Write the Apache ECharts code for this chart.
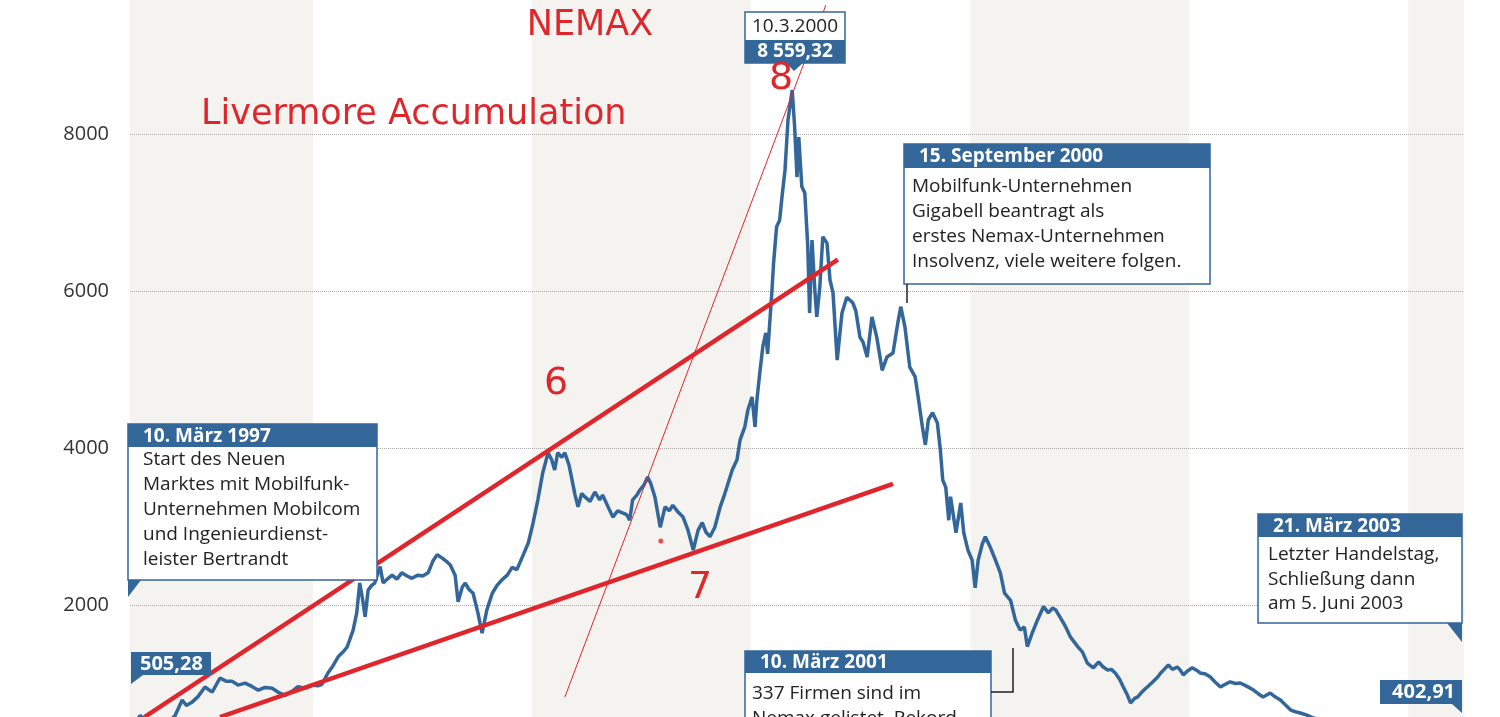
<!DOCTYPE html>
<html>
<head>
<meta charset="utf-8">
<title>NEMAX</title>
<script src="https://cdn.jsdelivr.net/npm/echarts@6/dist/echarts.min.js"></script>
<style>
  html, body { margin: 0; padding: 0; background: #fff; }
  #chart { width: 1500px; height: 717px; }
</style>
</head>
<body>
<div id="chart"></div>
<script>
// NEMAX Verlauf 1997-2003
const dates = [
  '1997-03-10','1997-03-19','1997-03-27','1997-04-04','1997-04-21','1997-05-08','1997-05-16','1997-05-28','1997-06-04','1997-06-13',
  '1997-06-23','1997-07-05','1997-07-17','1997-07-30','1997-08-09','1997-08-19','1997-08-29','1997-09-10','1997-09-22','1997-10-02',
  '1997-10-13','1997-10-25','1997-11-06','1997-11-16','1997-11-27','1997-12-07','1997-12-19','1997-12-31',
  '1998-01-09','1998-01-16','1998-01-26','1998-02-03','1998-02-12','1998-02-20','1998-02-27','1998-03-09','1998-03-15','1998-03-20',
  '1998-03-25','1998-03-29','1998-04-03','1998-04-09','1998-04-14','1998-04-23','1998-04-28','1998-05-05','1998-05-13','1998-05-21',
  '1998-05-29','1998-06-07','1998-06-15','1998-06-25','1998-07-03','1998-07-12','1998-07-20','1998-07-27','1998-08-04','1998-08-11',
  '1998-08-18','1998-08-26','1998-08-31','1998-09-07','1998-09-12','1998-09-18','1998-09-25','1998-10-03','1998-10-10','1998-10-18',
  '1998-10-27','1998-11-04','1998-11-12','1998-11-21','1998-11-29','1998-12-07','1998-12-16','1998-12-26',
  '1999-01-03','1999-01-11','1999-01-19','1999-01-28','1999-02-03','1999-02-08','1999-02-13','1999-02-20','1999-02-25','1999-03-04',
  '1999-03-09','1999-03-14','1999-03-19','1999-03-25','1999-03-30','1999-04-08','1999-04-16','1999-04-24','1999-04-29','1999-05-08',
  '1999-05-16','1999-05-24','1999-06-02','1999-06-08','1999-06-13','1999-06-18','1999-06-25','1999-06-30','1999-07-07','1999-07-13',
  '1999-07-18','1999-07-25','1999-08-03','1999-08-11','1999-08-18','1999-08-24','1999-09-02','1999-09-10','1999-09-18','1999-09-27',
  '1999-10-05','1999-10-12','1999-10-18','1999-10-25','1999-11-02','1999-11-11','1999-11-17','1999-11-22','1999-12-01','1999-12-09',
  '1999-12-14','1999-12-22','1999-12-27',
  '2000-01-03','2000-01-08','2000-01-11','2000-01-16','2000-01-21','2000-01-26','2000-01-29','2000-02-05','2000-02-08','2000-02-13',
  '2000-02-18','2000-02-22','2000-02-27','2000-03-03','2000-03-10','2000-03-14','2000-03-18','2000-03-21','2000-03-26','2000-03-31',
  '2000-04-05','2000-04-08','2000-04-12','2000-04-17','2000-04-20','2000-04-25','2000-04-30','2000-05-07','2000-05-12','2000-05-17',
  '2000-05-24','2000-06-01','2000-06-09','2000-06-19','2000-06-24','2000-07-01','2000-07-06','2000-07-13','2000-07-21','2000-07-29',
  '2000-08-07','2000-08-15','2000-08-25','2000-09-02','2000-09-07','2000-09-14','2000-09-22','2000-10-01','2000-10-06','2000-10-13',
  '2000-10-18','2000-10-23','2000-10-30','2000-11-07','2000-11-12','2000-11-16','2000-11-21','2000-11-26','2000-11-29','2000-12-08',
  '2000-12-16','2000-12-21','2000-12-28',
  '2001-01-04','2001-01-09','2001-01-14','2001-01-21','2001-01-26','2001-02-03','2001-02-12','2001-02-20','2001-02-27','2001-03-09',
  '2001-03-17','2001-03-25','2001-04-01','2001-04-06','2001-04-14','2001-04-23','2001-05-03','2001-05-11','2001-05-18','2001-05-23',
  '2001-05-31','2001-06-09','2001-06-17','2001-06-29','2001-07-07','2001-07-15','2001-07-25','2001-08-03','2001-08-09','2001-08-18',
  '2001-08-24','2001-08-31','2001-09-07','2001-09-13','2001-09-20','2001-09-25','2001-10-02','2001-10-07','2001-10-15','2001-10-23',
  '2001-11-01','2001-11-09','2001-11-14','2001-11-19','2001-11-27','2001-12-04','2001-12-12','2001-12-17','2001-12-22','2001-12-29',
  '2002-01-06','2002-01-13','2002-01-19','2002-01-28','2002-02-05','2002-02-13','2002-02-22','2002-03-02','2002-03-10','2002-03-19',
  '2002-03-27','2002-04-08','2002-04-18','2002-04-26','2002-05-04','2002-05-16','2002-05-24','2002-06-02','2002-06-10','2002-06-19',
  '2002-06-27','2002-07-05','2002-07-15','2002-07-27','2002-08-15','2002-09-05','2002-09-25','2002-10-08','2002-10-25','2002-11-15',
  '2002-12-05','2002-12-30','2003-01-15','2003-02-10','2003-03-10','2003-03-21'
];
const values = [
  505.28, 590, 540, 480, 470, 530, 590, 790, 720, 760,
  830, 955, 890, 1070, 1030, 1030, 980, 1005, 960, 915,
  950, 940, 880, 850, 900, 960, 940, 980,
  970, 990, 1134, 1220, 1340, 1400, 1465, 1680, 1900, 2280,
  2060, 1850, 2190, 2250, 2280, 2490, 2280, 2330, 2380, 2330,
  2410, 2370, 2340, 2380, 2370, 2410, 2560, 2640, 2600, 2560,
  2510, 2380, 2040, 2230, 2280, 2200, 2150, 1900, 1640, 1940,
  2150, 2250, 2320, 2380, 2480, 2450, 2610, 2790,
  3045, 3340, 3680, 3940, 3850, 3720, 3940, 3880, 3940, 3780,
  3590, 3400, 3250, 3420, 3380, 3320, 3440, 3340, 3400, 3250,
  3120, 3200, 3170, 3150, 3080, 3340, 3400, 3465, 3530, 3630,
  3550, 3380, 2990, 3250, 3200, 3270, 3180, 3120, 2960, 2700,
  2950, 3050, 2930, 2870, 2990, 3250, 3380, 3500, 3720, 3850,
  4100, 4270, 4480,
  4650, 4270, 4600, 4960, 5290, 5465, 5200, 5975, 6360, 6820,
  6900, 7200, 7540, 8180, 8559.32, 8100, 7450, 7960, 7330, 7250,
  6560, 5720, 6650, 5975, 5670, 6050, 6690, 6610, 6140, 5980,
  5120, 5720, 5920, 5850, 5750, 5410, 5350, 5160, 5670, 5410,
  4990, 5160, 5210, 5590, 5800, 5540, 5030, 4905, 4650, 4270,
  4040, 4360, 4450, 4320, 3975, 3590, 3500, 3080, 3380, 2920,
  3300, 2920, 2700,
  2570, 2220, 2570, 2780, 2870, 2740, 2570, 2410, 2150, 2060,
  1810, 1680, 1720, 1470, 1640, 1810, 1980, 1900, 1960, 1940,
  1840, 1720, 1590, 1470, 1400, 1260, 1200, 1275, 1220, 1170,
  1180, 1130, 1050, 955, 850, 752, 810, 830, 900, 955,
  1020, 1080, 1130, 1170, 1236, 1180, 1210, 1170, 1110, 1160,
  1200, 1170, 1134, 1120, 1083, 1020, 955, 990, 1020, 1000,
  1006, 960, 917, 870, 828, 879, 830, 790, 730, 662,
  640, 624, 600, 560, 520, 480, 390, 320, 390, 440,
  430, 400, 430, 370, 360, 402.91
];

// Jahresbänder (grau hinterlegt)
const greyYears = [['1997-03-02', '1998-01-01'], ['1999-01-01', '2000-01-01'], ['2001-01-01', '2002-01-01'], ['2003-01-01', '2003-04-04']];

// Trendlinien (rot)
const upperTrend = [['1997-03-26', 573], ['2000-05-25', 6400]];
const lowerTrend = [['1997-07-30', 573], ['2000-08-25', 3542]];
const thinTrend = [['1999-02-25', 828], ['2000-05-05', 9640]];
const redDot = [['1999-08-04', 2816]];

const yTicks = { min: 0, max: 10000, interval: 2000 };

const blue = '#336699';
const red = '#e0262d';
const textFont = '"Open Sans", "Noto Sans", sans-serif';

function fmtDe(v) {
  const parts = v.toFixed(2).split('.');
  return parts[0].replace(/\B(?=(\d{3})+(?!\d))/g, ' ') + ',' + parts[1];
}

const series = dates.map((d, i) => [d, values[i]]);
const startVal = values[0];
const peakVal = Math.max(...values);
const endVal = values[values.length - 1];

function txt(x, y, text, opts) {
  return {
    type: 'text',
    z: 100,
    style: Object.assign({
      x: x, y: y, text: text,
      fill: '#222',
      fontFamily: textFont,
      fontSize: 19,
      align: 'left', textAlign: 'left',
      verticalAlign: 'middle', textVerticalAlign: 'middle'
    }, opts || {})
  };
}
function box(x, y, w, h, headerH, title) {
  return [
    { type: 'rect', z: 90, shape: { x: x, y: y, width: w, height: h }, style: { fill: '#fff', stroke: blue, lineWidth: 1.5 } },
    { type: 'rect', z: 91, shape: { x: x, y: y, width: w, height: headerH }, style: { fill: blue } },
    txt(x + 15, y + headerH / 2 + 1, title, { fill: '#fff', fontWeight: 'bold' })
  ];
}
function body(x, y, lines, lh) {
  return txt(x, y, lines.join('\n'), { verticalAlign: 'top', textVerticalAlign: 'top', lineHeight: lh });
}
function tri(points) {
  return { type: 'polygon', z: 92, shape: { points: points }, style: { fill: blue } };
}

const graphics = [].concat(
  // 10. März 1997
  box(128, 424, 249, 156, 23, '10. März 1997'),
  [body(143, 447.5, ['Start des Neuen', 'Marktes mit Mobilfunk-', 'Unternehmen Mobilcom', 'und Ingenieurdienst-', 'leister Bertrandt'], 24.8),
   tri([[128, 580], [141, 580], [128, 597]])],
  // Startwert
  [{ type: 'rect', z: 90, shape: { x: 131, y: 652, width: 80, height: 23 }, style: { fill: blue } },
   txt(140, 664, fmtDe(startVal), { fill: '#fff', fontWeight: 'bold', fontSize: 20 }),
   tri([[131, 675], [143, 675], [131, 684]])],
  // Hoechststand
  [{ type: 'rect', z: 90, shape: { x: 745, y: 12, width: 100, height: 51 }, style: { fill: '#fff', stroke: blue, lineWidth: 1.5 } },
   { type: 'rect', z: 91, shape: { x: 745, y: 40, width: 100, height: 23 }, style: { fill: blue } },
   txt(795, 27, '10.3.2000', { align: 'center', textAlign: 'center' }),
   txt(795, 52, fmtDe(peakVal), { fill: '#fff', fontWeight: 'bold', align: 'center', textAlign: 'center' }),
   tri([[786, 63], [803, 63], [794, 71]])],
  // 15. September 2000
  box(904, 144, 306, 140, 24, '15. September 2000'),
  [body(912, 174.5, ['Mobilfunk-Unternehmen', 'Gigabell beantragt als', 'erstes Nemax-Unternehmen', 'Insolvenz, viele weitere folgen.'], 25),
   { type: 'line', z: 92, shape: { x1: 907, y1: 284, x2: 907, y2: 303 }, style: { stroke: '#222', lineWidth: 1.5 } }],
  // 10. März 2001
  box(745, 651, 246, 90, 22, '10. März 2001'),
  [body(752, 681.5, ['337 Firmen sind im', 'Nemax gelistet, Rekord'], 25),
   { type: 'polyline', z: 92, shape: { points: [[991, 692], [1013, 692], [1013, 648]] }, style: { stroke: '#222', lineWidth: 1.5, fill: null } }],
  // 21. März 2003
  box(1258, 514, 204, 109, 23, '21. März 2003'),
  [body(1268, 542.5, ['Letzter Handelstag,', 'Schließung dann', 'am 5. Juni 2003'], 24.5),
   tri([[1447, 623], [1462, 623], [1462, 642]])],
  // Endwert
  [{ type: 'rect', z: 90, shape: { x: 1380, y: 680, width: 82, height: 24 }, style: { fill: blue } },
   txt(1455, 692, fmtDe(endVal), { fill: '#fff', fontWeight: 'bold', fontSize: 20, align: 'right', textAlign: 'right' }),
   tri([[1452, 704], [1462, 704], [1462, 713]])],
  // rote Beschriftungen
  [txt(590, 43, 'NEMAX', { fill: red, fontFamily: 'DejaVu Sans', fontSize: 35, align: 'center', textAlign: 'center', verticalAlign: 'bottom', textVerticalAlign: 'bottom' }),
   txt(201, 132, 'Livermore Accumulation', { fill: red, fontFamily: 'DejaVu Sans', fontSize: 35, verticalAlign: 'bottom', textVerticalAlign: 'bottom' }),
   txt(556, 403, '6', { fill: red, fontFamily: 'DejaVu Sans', fontSize: 38, align: 'center', textAlign: 'center', verticalAlign: 'bottom', textVerticalAlign: 'bottom' }),
   txt(700, 607, '7', { fill: red, fontFamily: 'DejaVu Sans', fontSize: 38, align: 'center', textAlign: 'center', verticalAlign: 'bottom', textVerticalAlign: 'bottom' }),
   txt(781, 98, '8', { fill: red, fontFamily: 'DejaVu Sans', fontSize: 38, align: 'center', textAlign: 'center', verticalAlign: 'bottom', textVerticalAlign: 'bottom' })]
);

const chart = echarts.init(document.getElementById('chart'));

const options = {
  animation: false,
  backgroundColor: '#fff',
  // Raster reicht oben und unten über das Bild hinaus (0 und 10000 liegen außerhalb)
  grid: { left: 130, right: 36, top: -23, bottom: -45, outerBoundsMode: 'none', containLabel: false },
  xAxis: {
    type: 'time',
    min: '1997-03-02',
    max: '2003-04-04',
    axisLine: { show: false },
    axisTick: { show: false },
    axisLabel: { show: false },
    splitLine: { show: false }
  },
  yAxis: {
    type: 'value',
    z: 4,
    min: yTicks.min,
    max: yTicks.max,
    interval: yTicks.interval,
    axisLine: { show: false },
    axisTick: { show: false },
    axisLabel: {
      color: '#333', fontSize: 20, fontFamily: textFont, margin: 21,
      formatter: v => (v > yTicks.min && v < yTicks.max) ? String(v) : ''
    },
    splitLine: { lineStyle: { type: 'dotted', color: '#a8a8a8', width: 1 } }
  },
  series: [
    {
      // Hintergrundbänder
      type: 'line',
      z: -1,
      data: [],
      silent: true,
      markArea: {
        silent: true,
        itemStyle: { color: '#f4f3f0' },
        data: greyYears.map(r => [{ xAxis: r[0] }, { xAxis: r[1] }])
      }
    },
    {
      name: 'NEMAX',
      type: 'line',
      data: series,
      showSymbol: false,
      symbol: 'none',
      lineStyle: { color: '#33679b', width: 3.5 },
      z: 5
    },
    {
      type: 'line', data: upperTrend, symbol: 'none', z: 6,
      lineStyle: { color: red, width: 4.5 }
    },
    {
      type: 'line', data: lowerTrend, symbol: 'none', z: 6,
      lineStyle: { color: red, width: 4.5 }
    },
    {
      type: 'line', data: thinTrend, symbol: 'none', z: 6,
      lineStyle: { color: red, width: 1 }
    },
    {
      type: 'scatter', data: redDot, symbolSize: 5, z: 6,
      itemStyle: { color: red }
    }
  ],
  graphic: { elements: graphics }
};

chart.setOption(options);

window.addEventListener('resize', () => {
  chart.resize();
});
</script>
</body>
</html>
